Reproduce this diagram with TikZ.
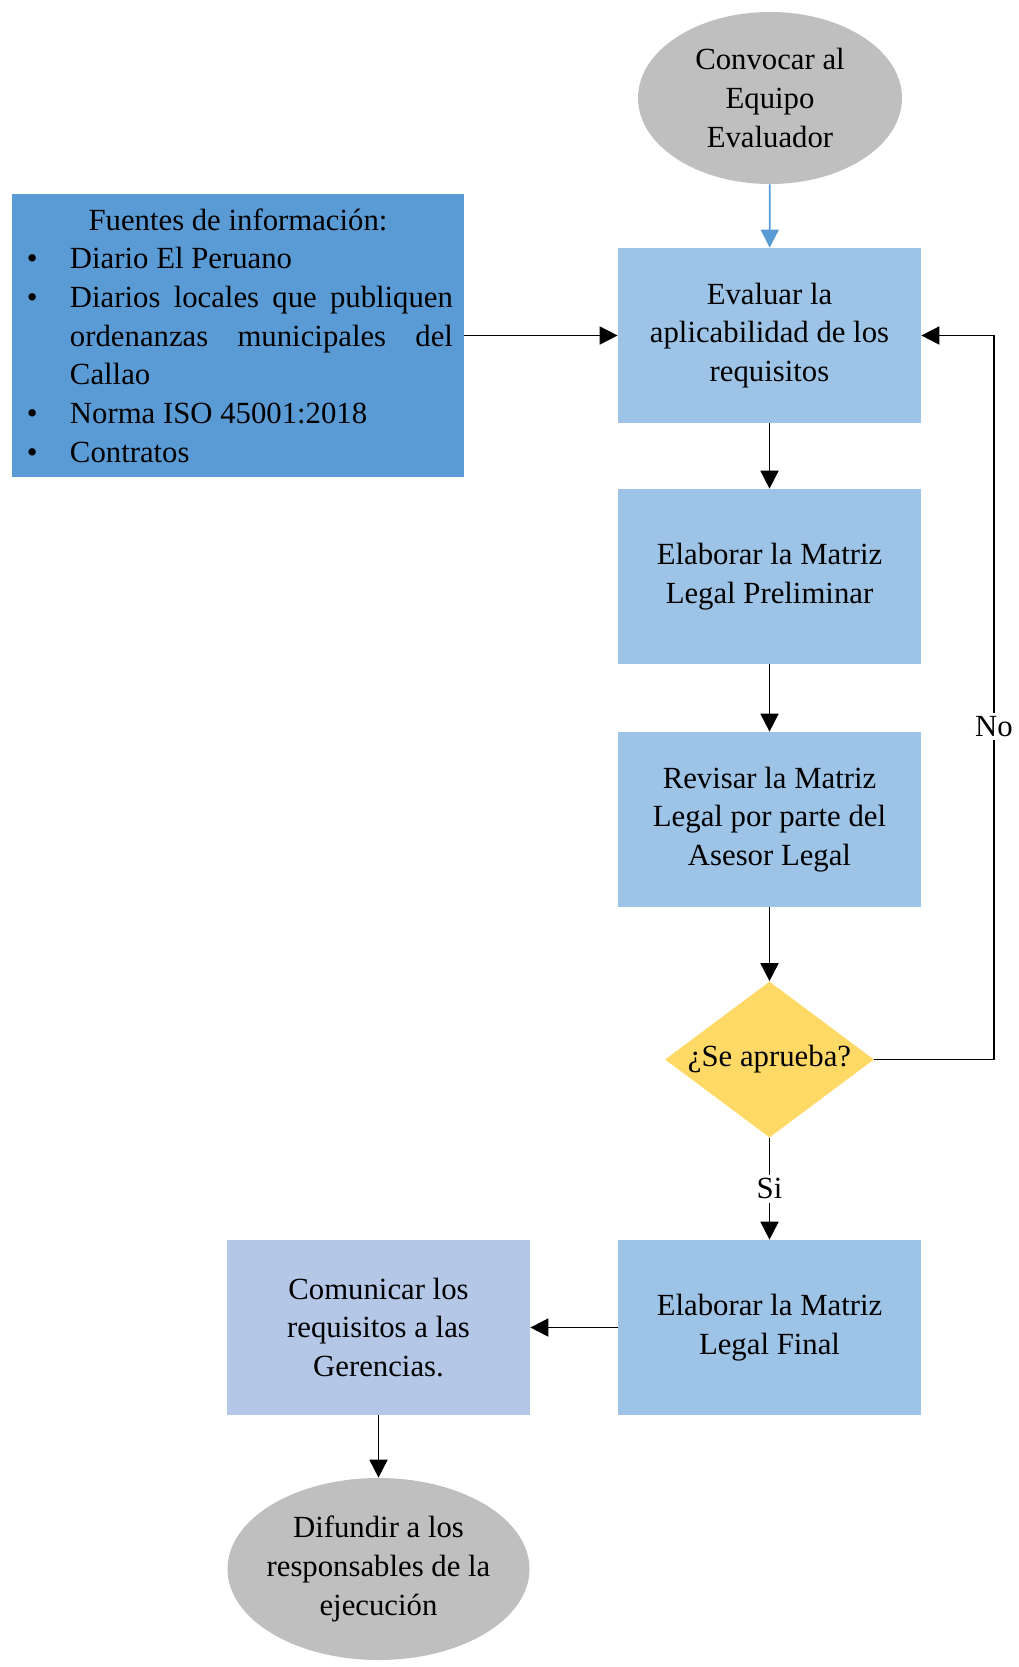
\documentclass[tikz,border=0pt]{standalone}
\usepackage{fontspec}
\setmainfont{Liberation Serif}
\usepackage{xcolor}
\usetikzlibrary{positioning,shapes.geometric,arrows.meta}
\definecolor{azulproc}{HTML}{9DC3E6}
\definecolor{azulfuente}{HTML}{5B9BD5}
\definecolor{azulclaro}{HTML}{B4C7E7}
\definecolor{grisfin}{HTML}{BFBFBF}
\definecolor{orodec}{HTML}{FFD966}
\newcommand{\fitem}[1]{\par\leftskip=0pt\rightskip=0pt\parfillskip=0pt plus 1fil
  \hangindent=9.4mm\hangafter=1\noindent\makebox[9.4mm][l]{\hspace{0.8mm}\textbullet}#1}

\begin{document}
\begin{tikzpicture}[x=0.2mm,y=-0.2mm]
\tikzset{every node/.style={font=\fontsize{17.5}{22}\selectfont},
  proceso/.style={rectangle,fill=azulproc,minimum width=60.6mm,minimum height=35mm,align=center,inner sep=0pt},
  terminal/.style={ellipse,fill=grisfin,align=center,inner xsep=-2mm,inner ysep=0pt},
  decision/.style={diamond,fill=orodec,aspect=1.35,inner sep=0pt,minimum width=41.8mm,minimum height=31.2mm},
  fuente/.style={rectangle,fill=azulfuente,text width=86mm,align=justify,inner xsep=2.2mm,minimum height=56.6mm},
  flecha/.style={-{Triangle[length=3.6mm,width=3.6mm]},line width=1pt},
  etiqueta/.style={fill=white,inner sep=2pt}}
\useasboundingbox (0,0) rectangle (1019,1667);
\node[terminal,minimum width=52.8mm,minimum height=34.4mm] (conv) at (770,98) {Convocar al\\Equipo\\Evaluador};
\node[proceso] (ev) at (769.5,335.5) {Evaluar la\\aplicabilidad de los\\requisitos};
\node[fuente] (fuentes) at (238,335.5) {\centering Fuentes de información:\par
  \fitem{Diario El Peruano}
  \fitem{Diarios locales que publiquen\linebreak ordenanzas municipales del\linebreak Callao}
  \fitem{Norma ISO 45001:2018}
  \fitem{Contratos}\par};
\node[proceso] (pre) at (769.5,576.5) {Elaborar la Matriz\\Legal Preliminar};
\node[proceso] (rev) at (769.5,819.5) {Revisar la Matriz\\Legal por parte del\\Asesor Legal};
\node[decision] (dia) at (769.5,1059.5) {¿Se aprueba?};
\node[proceso] (fin) at (769.5,1327.5) {Elaborar la Matriz\\Legal Final};
\node[proceso,fill=azulclaro] (com) at (378.5,1327.5) {Comunicar los\\requisitos a las\\Gerencias.};
\node[terminal,minimum width=60.4mm,minimum height=36.4mm] (dif) at (378.5,1569) {Difundir a los\\responsables de la\\ejecución};
\coordinate (vuelta) at (994,335.5);
\draw[flecha,draw=azulfuente] (conv) -- (ev);
\draw[flecha] (fuentes) -- (ev);
\draw[flecha] (ev) -- (pre);
\draw[flecha] (pre) -- (rev);
\draw[flecha] (rev) -- (dia);
\draw[flecha] (dia.east) -| node[etiqueta,pos=0.73] {No} (vuelta) -- (ev.east);
\draw[flecha] (dia) -- node[etiqueta] {Si} (fin);
\draw[flecha] (fin) -- (com);
\draw[flecha] (com) -- (dif);
\end{tikzpicture}
\end{document}
